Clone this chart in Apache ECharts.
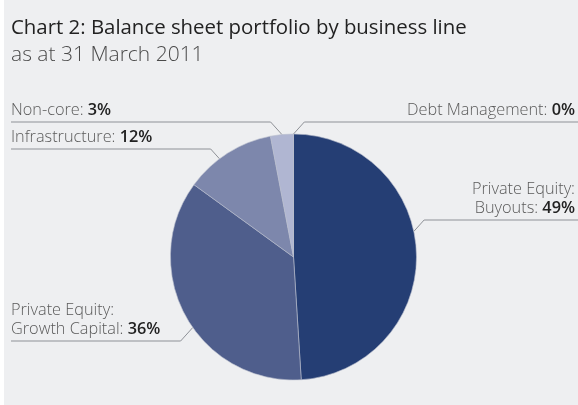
<!DOCTYPE html>
<html>
<head>
<meta charset="utf-8">
<script src="https://cdn.jsdelivr.net/npm/echarts@6/dist/echarts.min.js"></script>
<style>
html, body { margin: 0; padding: 0; background: #ffffff; }
#chart { position: absolute; left: 4px; top: 0; width: 574px; height: 405px; background: #eeeff1; }
</style>
</head>
<body>
<div id="chart"></div>
<script>
// ---- data ----
const categories = ['Private Equity: Buyouts', 'Private Equity: Growth Capital', 'Infrastructure', 'Non-core', 'Debt Management'];
const labelTexts = [['Private Equity:', 'Buyouts: '], ['Private Equity:', 'Growth Capital: '], ['Infrastructure: '], ['Non-core: '], ['Debt Management: ']];
const values = [49, 36, 12, 3, 0];

// ---- styles / layout (not data) ----
const sliceColors = ['#253e74', '#4f5e8c', '#7d87ac', '#b0b6d2', '#d6d9e6'];
const FONT = '"Open Sans", Lato, sans-serif';
const LEFT_EDGE = 7;
const RIGHT_TEXT_EDGE = 571;
// side, underline y, angle (deg, clockwise from 12 o'clock) where the leader meets the pie
const labelLayoutCfg = [
  { side: 'right', lineY: 220, angle: 78 },
  { side: 'left', lineY: 341, angle: 235 },
  { side: 'left', lineY: 149, angle: 323 },
  { side: 'left', lineY: 122, angle: 354.6 },
  { side: 'right', lineY: 122, angle: 0 }
];

const chart = echarts.init(document.getElementById('chart'), null, { renderer: 'canvas' });

function labelFormatter(i) {
  const lines = labelTexts[i];
  let s = '';
  for (let k = 0; k < lines.length - 1; k++) s += '{n|' + lines[k] + '}\n';
  s += '{n|' + lines[lines.length - 1] + '}{v|' + values[i] + '%}';
  return s;
}

const option = {
  backgroundColor: '#eeeff1',
  animation: false,
  title: {
    text: 'Chart 2: Balance sheet portfolio by business line',
    subtext: 'as at 31 March 2011',
    left: LEFT_EDGE,
    top: 17,
    padding: 0,
    itemGap: 5,
    textStyle: { fontFamily: FONT, fontSize: 20.4, fontWeight: 400, color: '#222222', lineHeight: 22 },
    subtextStyle: { fontFamily: FONT, fontSize: 21, fontWeight: 300, color: '#4a4a4a', lineHeight: 22 }
  },
  series: [{
    type: 'pie',
    center: [289.5, 257],
    radius: 123,
    startAngle: 90,
    clockwise: true,
    avoidLabelOverlap: false,
    itemStyle: { borderColor: '#b9bdcc', borderWidth: 0.6 },
    label: {
      show: true,
      position: 'outside',
      rich: {
        n: { fontFamily: FONT, fontSize: 16.3, fontWeight: 300, color: '#5a5a5a', lineHeight: 19 },
        v: { fontFamily: FONT, fontSize: 16.3, fontWeight: 600, color: '#222222', lineHeight: 19 }
      }
    },
    labelLine: { show: true, length: 10, length2: 10, lineStyle: { color: '#8e9197', width: 1 } },
    labelLayout: function (p) {
      const L = labelLayoutCfg[p.dataIndex];
      const lay = chart.getModel().getSeriesByIndex(0).getData().getItemLayout(p.dataIndex);
      const a = L.angle * Math.PI / 180;
      const sx = lay.cx + lay.r * Math.sin(a);
      const sy = lay.cy - lay.r * Math.cos(a);
      const dir = L.side === 'right' ? 1 : -1;
      const ex = sx + dir * Math.abs(sy - L.lineY) * 0.9;
      const endX = L.side === 'right' ? chart.getWidth() : LEFT_EDGE;
      return {
        x: L.side === 'right' ? RIGHT_TEXT_EDGE : LEFT_EDGE,
        y: L.lineY - 2,
        align: L.side,
        verticalAlign: 'bottom',
        hideOverlap: false,
        moveOverlap: false,
        labelLinePoints: [[sx, sy], [ex, L.lineY], [endX, L.lineY]]
      };
    },
    data: categories.map(function (c, i) {
      return {
        name: c,
        value: values[i],
        itemStyle: { color: sliceColors[i] },
        label: { formatter: labelFormatter(i), align: labelLayoutCfg[i].side }
      };
    })
  }]
};
chart.setOption(option);
</script>
</body>
</html>
